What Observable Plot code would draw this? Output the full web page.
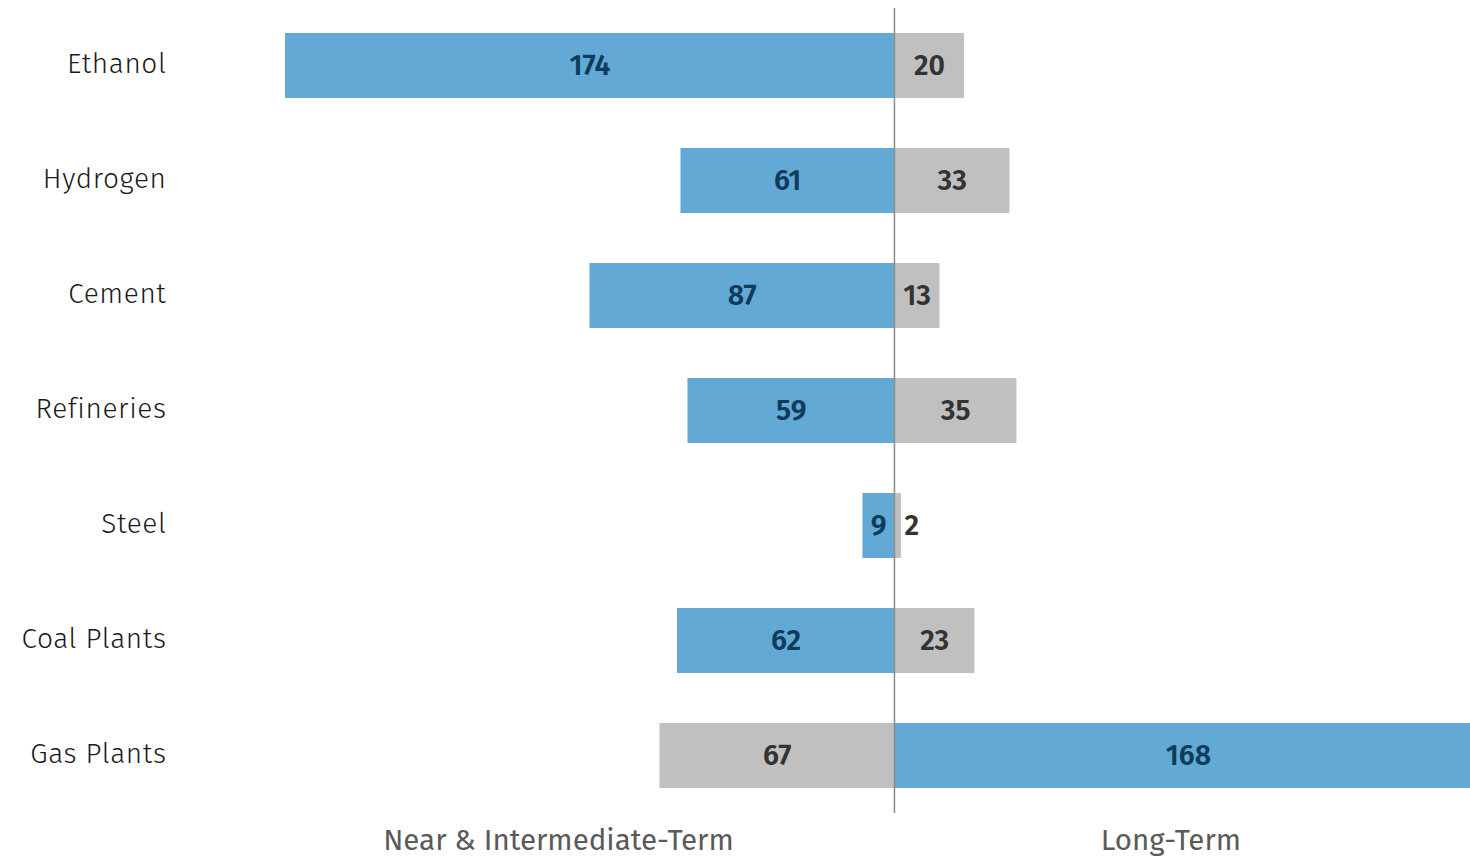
<!DOCTYPE html>
<html>
<head>
<meta charset="utf-8">
<script src="https://cdn.jsdelivr.net/npm/d3@7"></script>
<script src="https://cdn.jsdelivr.net/npm/@observablehq/plot@0.6"></script>
<style>
  html, body { margin: 0; padding: 0; background: #fff; overflow: hidden; }
  #chart svg { display: block; }
  g[aria-label="y-axis tick label"] text { letter-spacing: 0.6px; }
</style>
</head>
<body>
<div id="chart"></div>
<script>
const categories = ["Ethanol", "Hydrogen", "Cement", "Refineries", "Steel", "Coal Plants", "Gas Plants"];
const nearTerm = [174, 61, 87, 59, 9, 62, 67];
const longTerm = [20, 33, 13, 35, 2, 23, 168];
const sideLabels = ["Near & Intermediate-Term", "Long-Term"];
const sideLabelAt = [-96, 79];
const xDomain = [-174, 164.6];

const BLUE = "#63a9d6", GRAY = "#c0c0c0";
const BLUE_TXT = "#0e3c5a", GRAY_TXT = "#333333";
const FONT = "'Fira Sans', Lato, 'Open Sans', sans-serif";

const rows = [];
categories.forEach((c, i) => {
  const n = nearTerm[i], l = longTerm[i];
  const nearBig = n >= l;
  rows.push({category: c, side: "near", value: n, x1: -n, x2: 0, mid: -n / 2, big: nearBig});
  rows.push({category: c, side: "long", value: l, x1: 0, x2: l, mid: l / 2, big: !nearBig});
});
const inside = rows.filter(d => d.value >= 5);
const outside = rows.filter(d => d.value < 5);
const sides = sideLabels.map((t, i) => ({label: t, x: sideLabelAt[i]}));

const chart = Plot.plot({
  width: 1470,
  height: 857,
  marginTop: 8,
  marginBottom: 44,
  marginLeft: 285,
  marginRight: 0,
  style: {fontFamily: FONT, background: "#fff", overflow: "hidden"},
  x: {domain: xDomain, axis: null},
  y: {domain: categories, paddingInner: 0.435, paddingOuter: 0.21, label: null},
  marks: [
    Plot.barX(rows, {y: "category", x1: "x1", x2: "x2", fill: d => d.big ? BLUE : GRAY}),
    Plot.ruleX([0], {stroke: "#8a8a8a", strokeWidth: 1.5}),
    Plot.text(inside, {y: "category", x: "mid", text: d => String(d.value),
      fill: d => d.big ? BLUE_TXT : GRAY_TXT, fontSize: 28.5, fontWeight: 600, dy: 0}),
    Plot.text(outside, {y: "category", x: "x2", text: d => String(d.value),
      fill: d => d.big ? BLUE_TXT : GRAY_TXT, fontSize: 28.5, fontWeight: 600, textAnchor: "start", dx: 3, dy: 0}),
    Plot.axisY({tickSize: 0, tickPadding: 119, fontSize: 28, fontWeight: 300, color: "#1a1a1a", label: null, dy: -2}),
    Plot.text(sides, {x: "x", frameAnchor: "bottom", dy: 36, text: "label", fontSize: 29.5, fill: "#5a5a5a"})
  ]
});
document.getElementById("chart").appendChild(chart);
</script>
</body>
</html>
